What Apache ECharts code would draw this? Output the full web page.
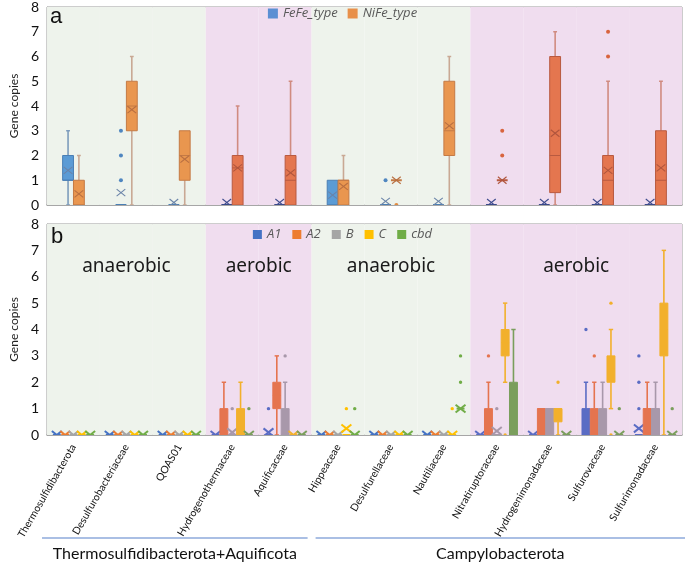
<!DOCTYPE html>
<html>
<head>
<meta charset="utf-8">
<script src="https://cdn.jsdelivr.net/npm/echarts@6/dist/echarts.min.js"></script>
<style>
  html, body { margin: 0; padding: 0; background: #fff; }
  #chart { width: 685px; height: 563px; }
</style>
</head>
<body>
<div id="chart"></div>
<script>
// ---- data ----
const categories = [
  'Thermosulfidibacterota', 'Desulfurobacteriaceae', 'QOAS01', 'Hydrogenothermaceae', 'Aquificaceae',
  'Hippeaceae', 'Desulfurellaceae', 'Nautiliaceae', 'Nitratiruptoraceae', 'Hydrogenimonadaceae',
  'Sulfurovaceae', 'Sulfurimonadaceae'
];
const habitat = ['anaerobic', 'anaerobic', 'anaerobic', 'aerobic', 'aerobic',
  'anaerobic', 'anaerobic', 'anaerobic', 'aerobic', 'aerobic', 'aerobic', 'aerobic'];
const phylumGroups = ['Thermosulfidibacterota+Aquificota', 'Campylobacterota'];
const phylumOf = [0, 0, 0, 0, 0, 1, 1, 1, 1, 1, 1, 1];

// panel a: [min, Q1, median, Q3, max]
const hydTypes = ['FeFe_type', 'NiFe_type'];
const fefeBox = [
  [0, 1, 1, 2, 3], [0, 0, 0, 0, 0], [0, 0, 0, 0, 0], [0, 0, 0, 0, 0], [0, 0, 0, 0, 0], [0, 0, 0, 1, 1],
  [0, 0, 0, 0, 0], [0, 0, 0, 0, 0], [0, 0, 0, 0, 0], [0, 0, 0, 0, 0], [0, 0, 0, 0, 0], [0, 0, 0, 0, 0]
];
const fefeMean = [1.4, 0.5, 0.1, 0.1, 0.1, 0.4, 0.15, 0.15, 0.1, 0.1, 0.1, 0.1];
const fefeOut = [[], [1, 2, 3], [], [], [], [], [1], [], [], [], [], []];
const nifeBox = [
  [0, 0, 0, 1, 2], [0, 3, 4, 5, 6], [0, 1, 2, 3, 3], [0, 0, 1.5, 2, 4], [0, 0, 1, 2, 5], [0, 0, 1, 1, 2],
  [1, 1, 1, 1, 1], [0, 2, 3, 5, 6], [1, 1, 1, 1, 1], [0, 0.5, 2, 6, 7], [0, 0, 1, 2, 5], [0, 0, 1, 3, 5]
];
const nifeMean = [0.45, 3.85, 1.85, 1.5, 1.3, 0.75, 1, 3.2, 1, 2.9, 1.4, 1.5];
const nifeOut = [[], [], [], [], [], [], [0], [], [2, 3], [], [6, 7], []];

// panel b
const hupTypes = ['A1', 'A2', 'B', 'C', 'cbd'];
const a1Box = [
  [0, 0, 0, 0, 0], [0, 0, 0, 0, 0], [0, 0, 0, 0, 0], [0, 0, 0, 0, 0], [0, 0, 0, 0, 0], [0, 0, 0, 0, 0],
  [0, 0, 0, 0, 0], [0, 0, 0, 0, 0], [0, 0, 0, 0, 0], [0, 0, 0, 0, 0], [0, 0, 0, 1, 2], [0, 0, 0, 0, 0]
];
const a1Mean = [0, 0, 0, 0, 0.1, 0, 0, 0, 0, 0, null, 0.25];
const a1Out = [[], [], [], [], [1], [], [], [], [], [], [4], [1, 2, 3]];
const a2Box = [
  [0, 0, 0, 0, 0], [0, 0, 0, 0, 0], [0, 0, 0, 0, 0], [0, 0, 0, 1, 2], [0, 1, 1.5, 2, 3], [0, 0, 0, 0, 0],
  [0, 0, 0, 0, 0], [0, 0, 0, 0, 0], [0, 0, 0, 1, 2], [0, 0, 1, 1, 1], [0, 0, 0, 1, 2], [0, 0, 1, 1, 2]
];
const a2Mean = [0, 0, 0, null, null, 0, 0, 0, null, null, null, null];
const a2Out = [[], [], [], [], [], [], [], [], [3], [], [3], []];
const bBox = [
  [0, 0, 0, 0, 0], [0, 0, 0, 0, 0], [0, 0, 0, 0, 0], [0, 0, 0, 0, 0], [0, 0, 0, 1, 2], [0, 0, 0, 0, 0],
  [0, 0, 0, 0, 0], [0, 0, 0, 0, 0], [0, 0, 0, 0, 0], [0, 0, 1, 1, 1], [0, 0, 0, 1, 2], [0, 0, 1, 1, 2]
];
const bMean = [0, 0, 0, 0.1, null, 0, 0, 0, 0.15, null, null, null];
const bOut = [[], [], [], [1], [3], [], [], [], [1], [], [], []];
const cBox = [
  [0, 0, 0, 0, 0], [0, 0, 0, 0, 0], [0, 0, 0, 0, 0], [0, 0, 0, 1, 2], [0, 0, 0, 0, 0], [0, 0, 0, 0, 0],
  [0, 0, 0, 0, 0], [0, 0, 0, 0, 0], [2, 3, 3.5, 4, 5], [0, 0.5, 1, 1, 1], [1, 2, 2.5, 3, 4], [0, 3, 4, 5, 7]
];
const cMean = [0, 0, 0, null, 0, 0.25, 0, 0, null, null, null, null];
const cOut = [[], [], [], [], [], [1], [], [1], [0], [2], [0, 5], []];
const cbdBox = [
  [0, 0, 0, 0, 0], [0, 0, 0, 0, 0], [0, 0, 0, 0, 0], [0, 0, 0, 0, 0], [0, 0, 0, 0, 0], [0, 0, 0, 0, 0],
  [0, 0, 0, 0, 0], [1, 1, 1, 1, 1], [0, 0, 0, 2, 4], [0, 0, 0, 0, 0], [0, 0, 0, 0, 0], [0, 0, 0, 0, 0]
];
const cbdMean = [0, 0, 0, 0, 0, 0, 0, 1, null, 0, 0, 0];
const cbdOut = [[], [], [], [1], [], [1], [], [2, 3], [], [], [1], [1]];

const yTicks = [0, 1, 2, 3, 4, 5, 6, 7, 8];

// ---- styling ----
const bgColor = { anaerobic: '#eef3ec', aerobic: '#f0ddef' };
const FONT = 'Lato, "Liberation Sans", sans-serif';

const panelA = {
  boxFrac: 0.205, offsets: [-0.5, 0.5], capFrac: 0.35, whiskerWidth: 1.6, xSize: 0.8, xWidth: 1.1, dotR: 2,
  boxes: [fefeBox, nifeBox], means: [fefeMean, nifeMean], outs: [fefeOut, nifeOut],
  legendColors: ['#5b8fd3', '#e8904a'],
  pal: [
    {
      anaerobic: { fill: '#5b9bd5', stroke: '#4a7fb5', whisker: '#7d9cbd', mark: '#6a83a8', dot: '#4f86c0' },
      aerobic: { fill: '#4a5aa0', stroke: '#3a4a8a', whisker: '#3f4d8c', mark: '#3c4a8c', dot: '#3f4d8c' }
    },
    {
      anaerobic: { fill: '#e9964f', stroke: '#c47a45', whisker: '#c9a894', mark: '#b86f42', dot: '#e08a40' },
      aerobic: { fill: '#e4764f', stroke: '#b85a40', whisker: '#d08b80', mark: '#b0553d', dot: '#d8643e' }
    }
  ]
};
const panelB = {
  boxFrac: 0.15, offsets: [-2.1, -1.05, 0, 1.05, 2.1], capFrac: 0.55, whiskerWidth: 1.6, xSize: 1.25, xWidth: 2, dotR: 1.7,
  boxes: [a1Box, a2Box, bBox, cBox, cbdBox], means: [a1Mean, a2Mean, bMean, cMean, cbdMean],
  outs: [a1Out, a2Out, bOut, cOut, cbdOut],
  legendColors: ['#4472c4', '#ed7d31', '#a5a5a5', '#ffc000', '#70ad47'],
  pal: [
    { anaerobic: '#4472c4', aerobic: '#5a6cc4' },
    { anaerobic: '#ed7d31', aerobic: '#e5744f' },
    { anaerobic: '#a5a5a5', aerobic: '#a898aa' },
    { anaerobic: '#ffc000', aerobic: '#f2b02c' },
    { anaerobic: '#70ad47', aerobic: '#7a9e5c' }
  ]
};

function paletteFor(panel, si, hab) {
  const p = panel.pal[si][hab];
  if (typeof p === 'string') return { fill: p, stroke: p, whisker: p, mark: p, dot: p };
  return p;
}

function makeRender(panel, si) {
  return function (params, api) {
    const i = params.dataIndex;
    const cat = api.value(0);
    const band = api.size([1, 0])[0];
    const w = band * panel.boxFrac;
    const cx = api.coord([cat, 0])[0] + panel.offsets[si] * w;
    const Y = v => api.coord([cat, v])[1];
    const mn = api.value(1), q1 = api.value(2), md = api.value(3), q3 = api.value(4), mx = api.value(5);
    const c = paletteFor(panel, si, habitat[i]);
    const cap = w * panel.capFrac;
    const kids = [];
    const seg = (x1, y1, x2, y2, color, lw) => ({
      type: 'line', shape: { x1, y1, x2, y2 }, style: { stroke: color, lineWidth: lw }
    });
    if (mx > q3) {
      kids.push(seg(cx, Y(q3), cx, Y(mx), c.whisker, panel.whiskerWidth));
      kids.push(seg(cx - cap / 2, Y(mx), cx + cap / 2, Y(mx), c.whisker, 1.5));
    }
    if (mn < q1) {
      kids.push(seg(cx, Y(q1), cx, Y(mn), c.whisker, panel.whiskerWidth));
      kids.push(seg(cx - cap / 2, Y(mn), cx + cap / 2, Y(mn), c.whisker, 1.5));
    }
    if (q3 > q1) {
      kids.push({
        type: 'rect',
        shape: { x: cx - w / 2, y: Y(q3), width: w, height: Y(q1) - Y(q3) },
        style: { fill: c.fill, stroke: c.stroke, lineWidth: 1 }
      });
    }
    kids.push(seg(cx - w / 2, Y(md), cx + w / 2, Y(md), c.stroke, q3 > q1 ? 1 : 2));
    const m = panel.means[si][i];
    if (m !== null) {
      const h = (w * panel.xSize) / 2;
      const my = Y(m);
      kids.push(seg(cx - h, my - h * 0.8, cx + h, my + h * 0.8, c.mark, panel.xWidth));
      kids.push(seg(cx - h, my + h * 0.8, cx + h, my - h * 0.8, c.mark, panel.xWidth));
    }
    panel.outs[si][i].forEach(v => {
      kids.push({ type: 'circle', shape: { cx, cy: Y(v), r: panel.dotR }, style: { fill: c.dot } });
    });
    return { type: 'group', children: kids };
  };
}

function panelSeries(panel, names, gridIdx) {
  const list = [{
    type: 'bar', xAxisIndex: gridIdx, yAxisIndex: gridIdx, silent: true, barWidth: '100%',
    data: categories.map((_, i) => ({ value: 8, itemStyle: { color: bgColor[habitat[i]] } })),
    z: 0, animation: false, legendHoverLink: false
  }];
  names.forEach((name, si) => {
    list.push({
      type: 'custom', name, xAxisIndex: gridIdx, yAxisIndex: gridIdx, clip: true,
      itemStyle: { color: panel.legendColors[si] },
      encode: { x: 0, y: [1, 2, 3, 4, 5] },
      data: panel.boxes[si].map((b, i) => [i, ...b]),
      renderItem: makeRender(panel, si), z: 2
    });
  });
  return list;
}

function yAxis(gridIndex) {
  return {
    type: 'value', gridIndex, min: 0, max: 8, interval: 1,
    name: 'Gene copies', nameLocation: 'middle', nameGap: 21,
    nameTextStyle: { fontFamily: FONT, fontSize: 12, color: '#222' },
    axisLine: { show: true, lineStyle: { color: '#b8b8b8' } },
    axisTick: { show: false }, splitLine: { show: false },
    axisLabel: { fontFamily: FONT, fontSize: 14, color: '#111', margin: 8, formatter: v => yTicks.includes(v) ? String(v) : '' }
  };
}

const legendText = { fontFamily: '"Open Sans", sans-serif', fontStyle: 'italic', fontSize: 13, color: '#595959' };

const chart = echarts.init(document.getElementById('chart'));
chart.setOption({
  animation: false,
  grid: [
    { left: 33, right: 3, top: 4, height: 201, show: true, borderColor: '#9a9a9a', borderWidth: 1 },
    { left: 33, right: 3, top: 224, height: 211, show: true, borderColor: '#9a9a9a', borderWidth: 1 }
  ],
  legend: [
    { data: hydTypes, top: 2, left: 'center', icon: 'rect', itemWidth: 10, itemHeight: 10, itemGap: 10, textStyle: legendText },
    { data: hupTypes, top: 223, left: 'center', icon: 'rect', itemWidth: 9, itemHeight: 9, itemGap: 11, textStyle: legendText }
  ],
  xAxis: [
    {
      type: 'category', gridIndex: 0, data: categories,
      axisLine: { lineStyle: { color: '#9a9a9a', width: 1.5 } }, axisTick: { show: false }, axisLabel: { show: false }
    },
    {
      type: 'category', gridIndex: 1, data: categories,
      axisLine: { lineStyle: { color: '#9a9a9a', width: 1.5 } }, axisTick: { show: false },
      axisLabel: { interval: 0, rotate: 60, margin: 10, fontFamily: FONT, fontSize: 10.4, color: '#111' }
    }
  ],
  yAxis: [yAxis(0), yAxis(1)],
  series: [...panelSeries(panelA, hydTypes, 0), ...panelSeries(panelB, hupTypes, 1)]
});

// annotations placed from the axes
function catEdge(idx) {
  const c0 = chart.convertToPixel({ gridIndex: 1 }, [0, 0])[0];
  const c1 = chart.convertToPixel({ gridIndex: 1 }, [1, 0])[0];
  const band = c1 - c0;
  return c0 - band / 2 + idx * band;
}
const graphics = [
  { type: 'text', z: 100, x: 50, y: 6, style: { text: 'a', fontFamily: '"Liberation Sans", sans-serif', fontSize: 22, fill: '#111' } },
  { type: 'text', z: 100, x: 51, y: 226, style: { text: 'b', fontFamily: '"Liberation Sans", sans-serif', fontSize: 22, fill: '#111' } }
];
// habitat labels in panel b
let start = 0;
for (let i = 1; i <= categories.length; i++) {
  if (i === categories.length || habitat[i] !== habitat[start]) {
    const mid = (catEdge(start) + catEdge(i)) / 2;
    graphics.push({
      type: 'text', z: 100, x: mid, y: 267,
      style: { text: habitat[start], fontFamily: '"Noto Sans", sans-serif', fontSize: 19, fill: '#1a1a1a', align: 'center', verticalAlign: 'middle' }
    });
    start = i;
  }
}
// phylum brackets under the labels
phylumGroups.forEach((name, g) => {
  const idx = phylumOf.map((p, i) => p === g ? i : -1).filter(i => i >= 0);
  const x1 = catEdge(idx[0]) + (g === 0 ? -5 : 4);
  const x2 = catEdge(idx[idx.length - 1] + 1) + (g === 0 ? -4 : 3);
  graphics.push({ type: 'line', z: 100, shape: { x1, y1: 538, x2, y2: 538 }, style: { stroke: '#8eaadb', lineWidth: 1.5 } });
  graphics.push({
    type: 'text', z: 100, x: (x1 + x2) / 2, y: 554,
    style: { text: name, fontFamily: FONT, fontSize: 16, fill: '#111', align: 'center', verticalAlign: 'middle' }
  });
});
chart.setOption({ graphic: graphics });
</script>
</body>
</html>
